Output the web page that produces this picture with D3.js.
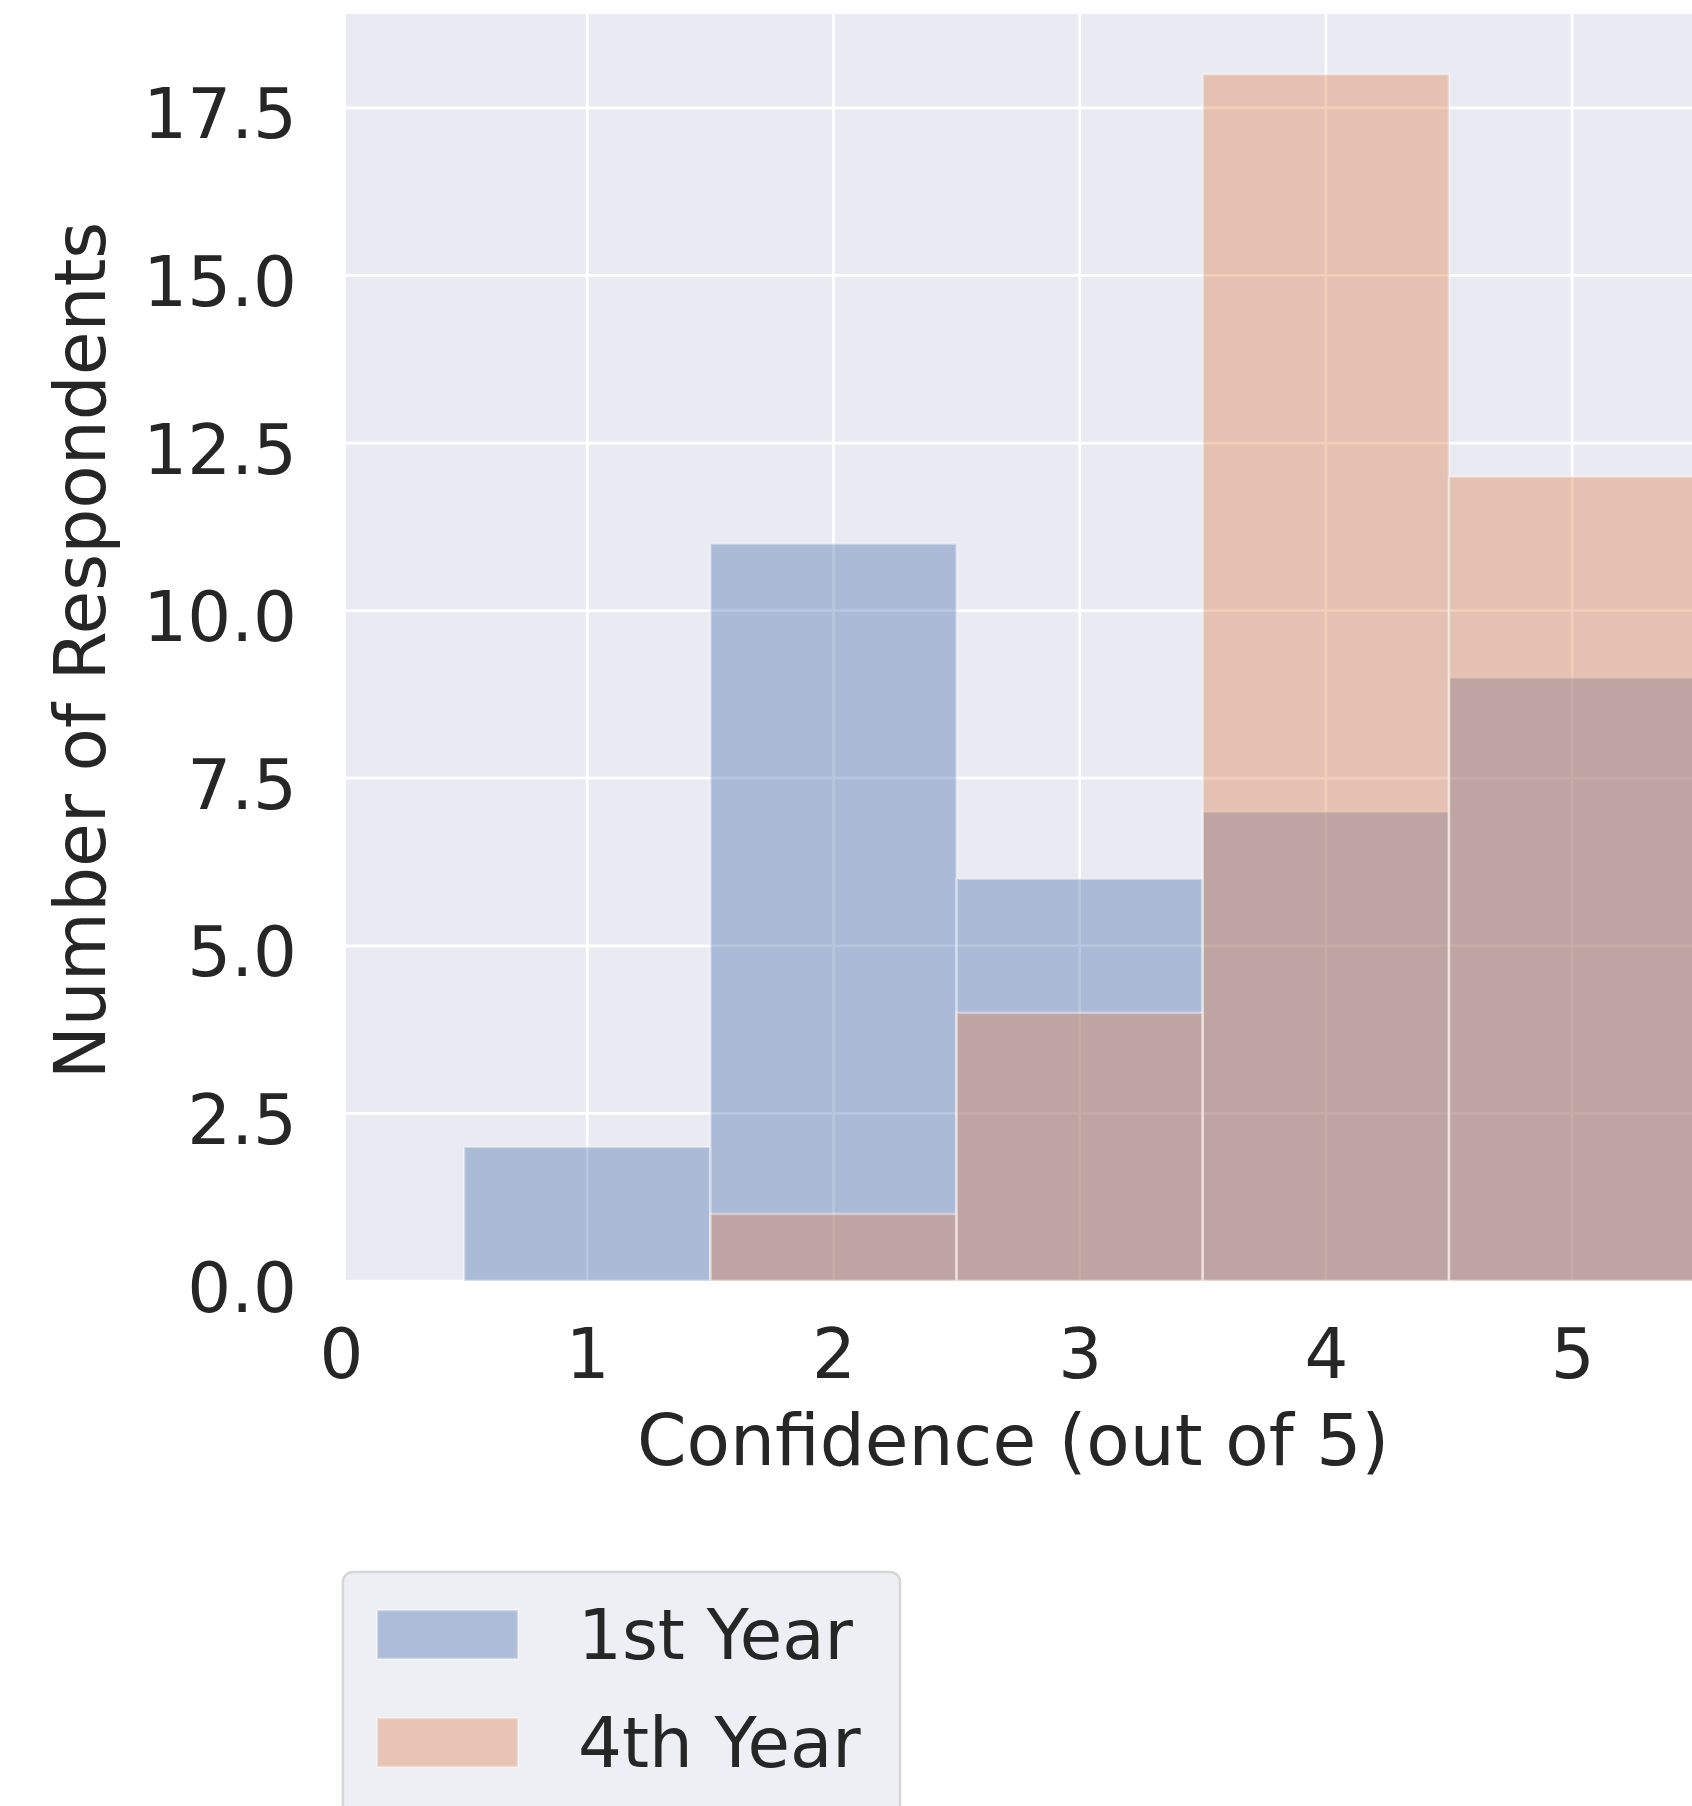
<!DOCTYPE html>
<html>
<head>
<meta charset="utf-8">
<script src="https://cdn.jsdelivr.net/npm/d3@7"></script>
<style>
  html, body { margin: 0; padding: 0; background: #ffffff; }
  svg { display: block; }
  text { font-family: "DejaVu Sans", sans-serif; fill: #262626; }
</style>
</head>
<body>
<script>
// ---- data ----
const confidence = [1, 2, 3, 4, 5];
const firstYear = [2, 11, 6, 7, 9];
const fourthYear = [0, 1, 4, 18, 12];
const seriesNames = ["1st Year", "4th Year"];
const seriesColors = ["#4C72B0", "#DD8452"];
const xTickValues = [0, 1, 2, 3, 4, 5];
const yTickValues = [0, 2.5, 5, 7.5, 10, 12.5, 15, 17.5];
const xLabel = "Confidence (out of 5)";
const yLabel = "Number of Respondents";

// ---- layout ----
const W = 1692, H = 1806;
const plot = { left: 346, right: 1692, top: 14, bottom: 1281 };

const svg = d3.select("body").append("svg")
  .attr("width", W).attr("height", H);

const x = d3.scaleLinear().domain([0.02, 5.487]).range([plot.left, plot.right]);
const y = d3.scaleLinear().domain([0, 18.9]).range([plot.bottom, plot.top]);

svg.append("defs").append("clipPath").attr("id", "plotclip")
  .append("rect")
  .attr("x", plot.left).attr("y", plot.top)
  .attr("width", plot.right - plot.left).attr("height", plot.bottom - plot.top);

// background
svg.append("rect")
  .attr("x", plot.left).attr("y", plot.top)
  .attr("width", plot.right - plot.left).attr("height", plot.bottom - plot.top)
  .attr("fill", "#EAEAF2");

// grid
const grid = svg.append("g").attr("clip-path", "url(#plotclip)");
grid.selectAll("line.gy").data(yTickValues).join("line")
  .attr("class", "gy")
  .attr("x1", plot.left).attr("x2", plot.right)
  .attr("y1", d => y(d)).attr("y2", d => y(d))
  .attr("stroke", "#ffffff").attr("stroke-width", 2.7);
grid.selectAll("line.gx").data(xTickValues.filter(d => x(d) >= plot.left)).join("line")
  .attr("class", "gx")
  .attr("y1", plot.top).attr("y2", plot.bottom)
  .attr("x1", d => x(d)).attr("x2", d => x(d))
  .attr("stroke", "#ffffff").attr("stroke-width", 2.7);

// bars
const bars = svg.append("g").attr("clip-path", "url(#plotclip)");
[firstYear, fourthYear].forEach((vals, si) => {
  bars.append("g").selectAll("rect").data(confidence.map((c, i) => ({ c, v: vals[i] })).filter(d => d.v > 0))
    .join("rect")
    .attr("x", d => x(d.c - 0.5))
    .attr("width", d => x(d.c + 0.5) - x(d.c - 0.5))
    .attr("y", d => y(d.v))
    .attr("height", d => y(0) - y(d.v))
    .attr("fill", seriesColors[si]).attr("fill-opacity", 0.4)
    .attr("stroke", "#ffffff").attr("stroke-opacity", 0.4).attr("stroke-width", 2.5);
});

// axes (tick labels only, no tick marks or spines)
const xAxis = svg.append("g").attr("transform", `translate(0,${plot.bottom})`)
  .call(d3.axisBottom(x).tickValues(xTickValues).tickFormat(d3.format("d")).tickSize(0));
xAxis.select(".domain").remove();
xAxis.selectAll("text")
  .attr("y", 97).attr("dy", 0)
  .style("font-size", "69px").style("font-family", "DejaVu Sans").attr("fill", "#262626");

const yAxis = svg.append("g").attr("transform", `translate(${plot.left},0)`)
  .call(d3.axisLeft(y).tickValues(yTickValues).tickFormat(d3.format(".1f")).tickSize(0));
yAxis.select(".domain").remove();
yAxis.selectAll("text")
  .attr("x", -49).attr("dy", 0).attr("y", 30)
  .style("font-size", "69px").style("font-family", "DejaVu Sans").attr("fill", "#262626");

// axis labels
svg.append("text")
  .attr("x", 1013).attr("y", 1465)
  .attr("text-anchor", "middle")
  .style("font-size", "71px")
  .text(xLabel);

svg.append("text")
  .attr("transform", `translate(105,${(plot.top + plot.bottom) / 2 + 3}) rotate(-90)`)
  .attr("text-anchor", "middle")
  .style("font-size", "71px")
  .text(yLabel);

// legend
const lg = svg.append("g");
lg.append("rect")
  .attr("x", 343).attr("y", 1572)
  .attr("width", 557).attr("height", 300)
  .attr("rx", 10).attr("ry", 10)
  .attr("fill", "#EEEEF5")
  .attr("stroke", "#D6D6D6").attr("stroke-width", 2.5);
const legendRows = [1610, 1718];
seriesNames.forEach((name, i) => {
  lg.append("rect")
    .attr("x", 377).attr("y", legendRows[i])
    .attr("width", 141).attr("height", 49)
    .attr("fill", seriesColors[i]).attr("fill-opacity", 0.4)
    .attr("stroke", "#ffffff").attr("stroke-opacity", 0.4).attr("stroke-width", 2.5);
  lg.append("text")
    .attr("x", 578).attr("y", legendRows[i] + 49)
    .style("font-size", "69px")
    .text(name);
});
</script>
</body>
</html>
